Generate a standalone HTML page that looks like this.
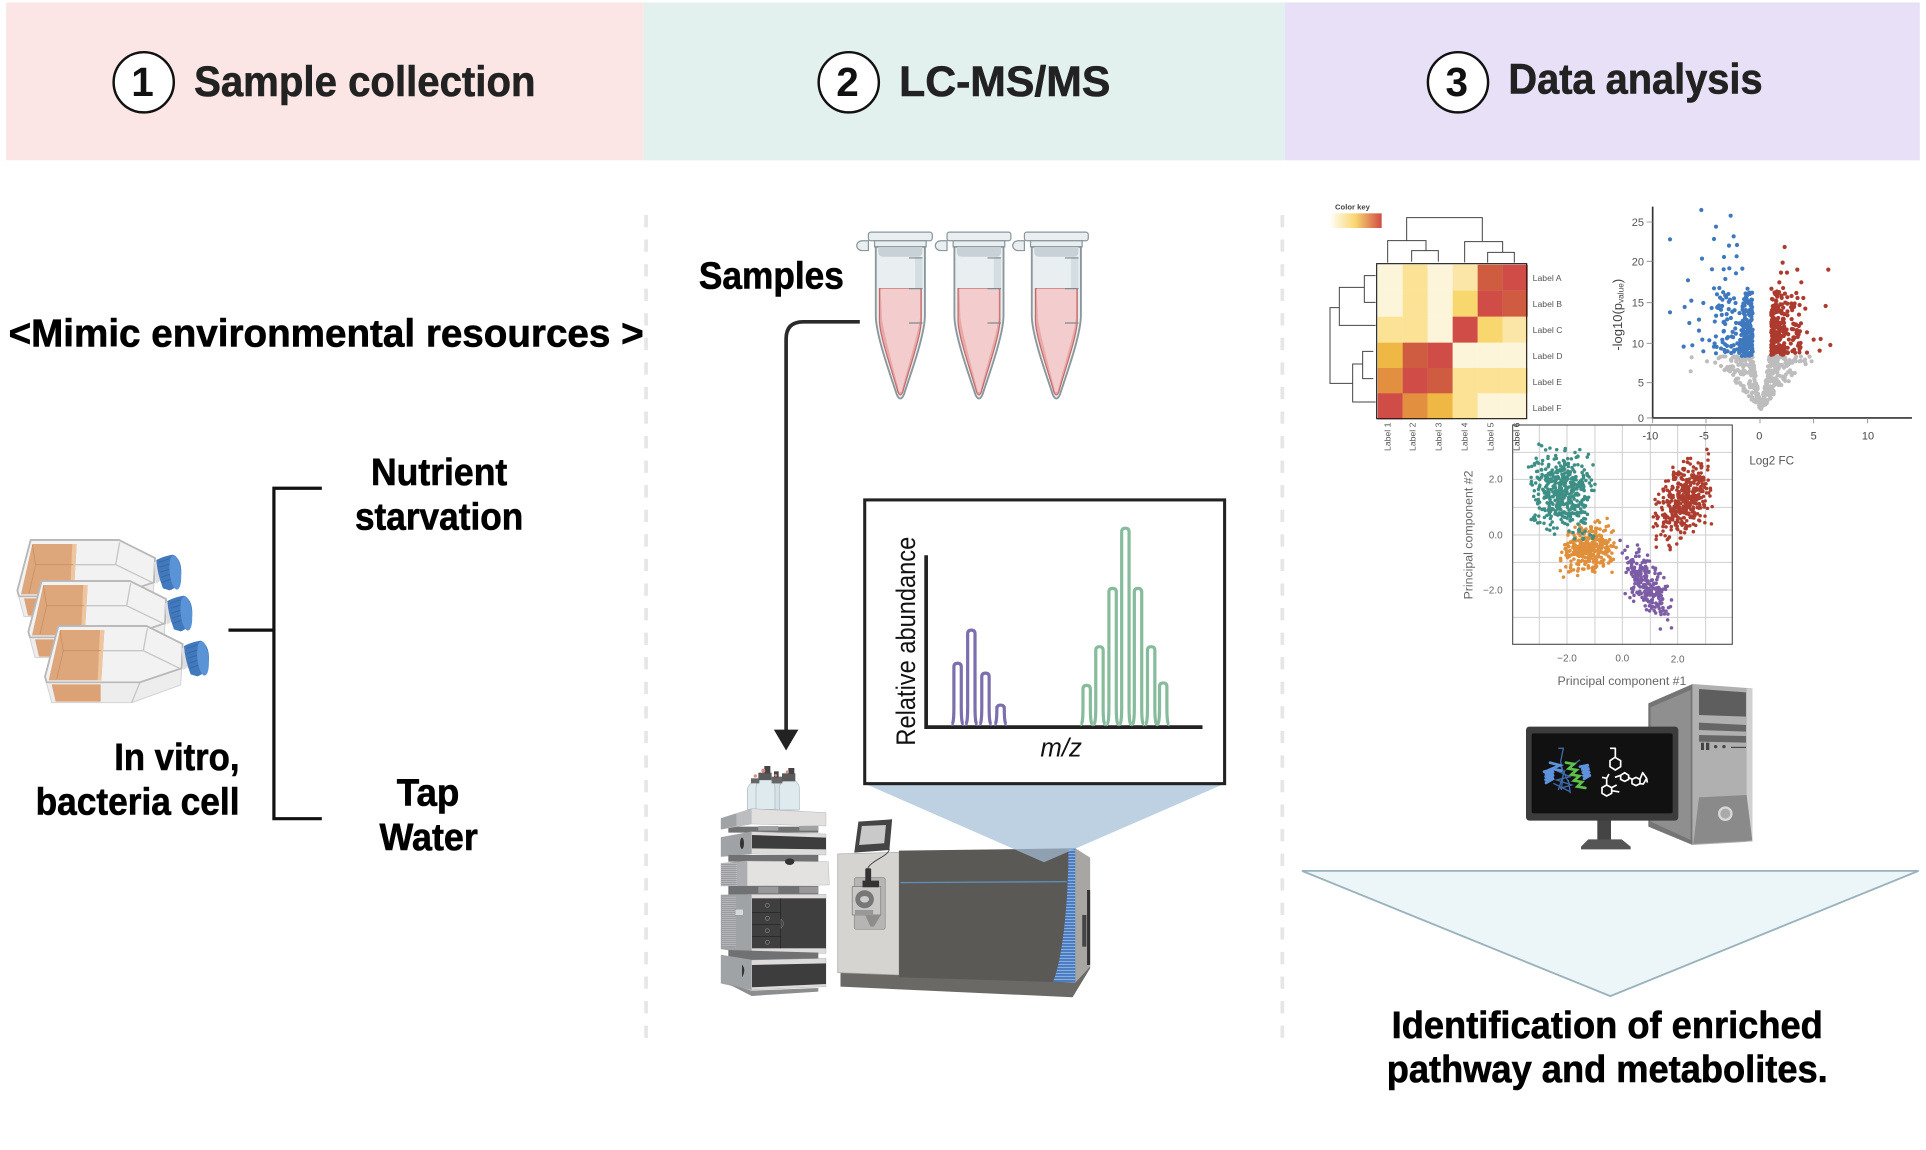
<!DOCTYPE html>
<html><head><meta charset="utf-8"><title>Workflow</title>
<style>
html,body{margin:0;padding:0;background:#fff;width:1926px;height:1150px;overflow:hidden}
svg{display:block}
text{font-family:"Liberation Sans",sans-serif}
.b{font-weight:700}
.h{font-weight:700;font-size:35px;fill:#222;stroke:#222;stroke-width:.5px}
.t{font-weight:700;font-size:31px;fill:#000;stroke:#000;stroke-width:.5px}
.g{fill:#666}
</style></head><body>
<svg xmlns="http://www.w3.org/2000/svg" width="1926" height="1150" viewBox="0 0 1926 1150">
<defs>
<linearGradient id="ck" x1="0" x2="1" y1="0" y2="0"><stop offset="0" stop-color="#fff"/><stop offset=".5" stop-color="#f9d76f"/><stop offset="1" stop-color="#d04c46"/></linearGradient>
<pattern id="stripes" width="9" height="9" patternUnits="userSpaceOnUse"><rect width="9" height="9" fill="#4a7cc2"/><rect width="9" height="3" fill="#8fb0dc"/></pattern>
<pattern id="vent" width="6" height="6" patternUnits="userSpaceOnUse"><rect width="6" height="6" fill="#b5b7ba"/><rect width="6" height="2" fill="#8a8c8f"/></pattern>
<g id="flask">
<path d="M175,318 L440,318 L548,372 L545,445 L420,487 L140,487 L135,470 Z" fill="#f2f2f2" stroke="#b8b8b8" stroke-width="5" stroke-linejoin="round"/>
<path d="M135,472 L155,548 L395,548 L542,495 L545,445 L420,487 L140,487 Z" fill="#ededed" stroke="#d4d4d4" stroke-width="3" stroke-linejoin="round"/>
<path d="M180,330 L313,330 L304,481 L146,481 Z" fill="#dea67b"/>
<path d="M300,330 L313,330 L304,481 L293,481 Z" fill="#edc59e"/>
<path d="M190,392 L303,392 M180,332 L190,392 L170,478" stroke="#c98f62" stroke-width="2.5" fill="none"/>
<path d="M155,493 L302,493 L302,545 L167,545 Z" fill="#dca275"/>
<path d="M308,392 L430,392 L545,448 M430,392 L442,325 M420,487 L395,548" stroke="#c6c6c6" stroke-width="4" fill="none"/>
<path d="M175,318 L440,318 L548,372 L545,445 L420,487 L140,487 L135,470 Z" fill="none" stroke="#b8b8b8" stroke-width="5" stroke-linejoin="round"/>
<path d="M545,385 L560,380 L565,440 L550,450 Z" fill="#dedede"/>
<path d="M552,378 Q575,366 602,362 Q628,375 627,418 Q625,458 592,469 L572,463 Q555,420 552,378 Z" fill="#4279bd"/>
<path d="M560,385 L590,375 M562,400 L592,390 M564,415 L594,405 M566,430 L595,420 M569,445 L597,435" stroke="#356aa8" stroke-width="3" fill="none"/>
<ellipse cx="609" cy="415" rx="17" ry="52" transform="rotate(-6 609 415)" fill="#5a93d6"/>
</g>
<g id="tube">
<path d="M-26,7 a4.5,4 0 1 0 0,8 h5 v-8 z" fill="#e9eff0" stroke="#8a979c" stroke-width="1"/>
<rect x="-21" y="0" width="52" height="7" rx="2" fill="#e9eff0" stroke="#8a979c" stroke-width="1"/>
<rect x="-16" y="7" width="42" height="5" fill="#e9eff0" stroke="#8a979c" stroke-width="1"/>
<path d="M-15,12 H25 V68 C25,85 11,122 8,132 Q5,139 2,132 C-1,122 -15,85 -15,68 Z" fill="#e9eff0" stroke="#8a979c" stroke-width="1.5"/>
<path d="M-13,12 H23 V16 Q23,20 19,20 H-9 Q-13,20 -13,16 Z" fill="#c8d1d5"/>
<path d="M17,20 H23 V46 H17 Z" fill="#d4dde1"/>
<path d="M-12,46 H22 V72 C22,85 10,118 7,130 Q5,135 3,130 C0,118 -12,85 -12,72 Z" fill="#e8a9a9" stroke="#c46a6a" stroke-width="1"/>
<path d="M-11,46 H21 V70 C19,85 9,116 6,130 H4 C1,116 -8,85 -10,70 Z" fill="#f3cdcd"/>
<path d="M12,21 H23 M12,46 H23 M12,74 H23" stroke="#7d8a8f" stroke-width="1"/>
</g>
</defs>

<rect width="1926" height="1150" fill="#fff"/>
<g transform="scale(1.2283)">
<rect x="5" y="2" width="519" height="128.5" fill="#fbe6e5"/>
<rect x="524" y="2" width="522" height="128.5" fill="#e3f1ee"/>
<rect x="1046" y="2" width="517" height="128.5" fill="#e8e0f7"/>
<circle cx="117" cy="67" r="24.5" fill="#fff" stroke="#111" stroke-width="2"/>
<circle cx="691" cy="67" r="24.5" fill="#fff" stroke="#111" stroke-width="2"/>
<circle cx="1187" cy="67" r="24.5" fill="#fff" stroke="#111" stroke-width="2"/>
<text class="b" x="116" y="78" font-size="33" text-anchor="middle" fill="#111">1</text>
<text class="b" x="690" y="78" font-size="33" text-anchor="middle" fill="#111">2</text>
<text class="b" x="1186" y="78" font-size="33" text-anchor="middle" fill="#111">3</text>
<text class="h" x="158" y="78" textLength="278" lengthAdjust="spacingAndGlyphs">Sample collection</text>
<text class="h" x="732" y="78" textLength="172" lengthAdjust="spacingAndGlyphs">LC-MS/MS</text>
<text class="h" x="1228" y="76" textLength="207" lengthAdjust="spacingAndGlyphs">Data analysis</text>

<path d="M526,175 V845 M1044,175 V845" stroke="#e6e6e6" stroke-width="3" stroke-dasharray="10 10" fill="none"/>

<text class="t" x="7" y="282" textLength="517" lengthAdjust="spacingAndGlyphs" style="font-size:32px">&lt;Mimic environmental resources &gt;</text>
<text class="t" x="569" y="235" textLength="118" lengthAdjust="spacingAndGlyphs">Samples</text>
<text class="t" x="302" y="395" textLength="111" lengthAdjust="spacingAndGlyphs">Nutrient</text>
<text class="t" x="289" y="431" textLength="137" lengthAdjust="spacingAndGlyphs">starvation</text>
<text class="t" x="93" y="627" textLength="102" lengthAdjust="spacingAndGlyphs">In vitro,</text>
<text class="t" x="29" y="663" textLength="166" lengthAdjust="spacingAndGlyphs">bacteria cell</text>
<text class="t" x="323" y="656" textLength="51" lengthAdjust="spacingAndGlyphs">Tap</text>
<text class="t" x="309" y="692" textLength="80" lengthAdjust="spacingAndGlyphs">Water</text>
<text class="t" x="1133" y="845" textLength="351" lengthAdjust="spacingAndGlyphs">Identification of enriched</text>
<text class="t" x="1129" y="881" textLength="359" lengthAdjust="spacingAndGlyphs">pathway and metabolites.</text>

<path d="M262,397.5 H223 V666.5 H262 M186,513 H223" fill="none" stroke="#111" stroke-width="2.6"/>
<path d="M700,262 H654 Q640,262 640,276 V596" fill="none" stroke="#2a2a2a" stroke-width="3"/>
<polygon points="630,594 650,594 640,611" fill="#222"/>

<use href="#tube" x="728" y="189"/>
<use href="#tube" x="792" y="189"/>
<use href="#tube" x="855" y="189"/>

<polygon points="1060,709 1562,709 1311,811" fill="#ecf6f9" stroke="#9ab2bc" stroke-width="1.5"/>
</g>

<!-- flasks -->
<g transform="translate(0,520) scale(.3333)">
<use href="#flask" x="-83" y="-258"/>
<use href="#flask" x="-50" y="-135"/>
<use href="#flask"/>
</g>

<!-- LC stack -->
<g transform="translate(700,760) scale(.3333)">
<g>
<path d="M142,148 V92 Q142,78 155,68 H170 V148 Z" fill="#dfeaef" stroke="#a9b8bf" stroke-width="2"/>
<path d="M222,148 V70 H240 V148 Z" fill="#d5e2e8" stroke="#a9b8bf" stroke-width="2"/>
<path d="M168,148 V85 Q168,70 180,60 H212 Q225,70 225,85 V148 Z" fill="#dfeaef" stroke="#a9b8bf" stroke-width="2"/>
<path d="M238,150 V85 Q238,72 252,62 H285 Q298,72 298,85 V150 Z" fill="#dfeaef" stroke="#a9b8bf" stroke-width="2"/>
<rect x="153" y="55" width="25" height="15" fill="#666"/><rect x="175" y="38" width="40" height="22" fill="#5a5a5a"/>
<rect x="193" y="18" width="18" height="22" fill="#444"/><rect x="215" y="50" width="32" height="20" fill="#666"/>
<rect x="222" y="34" width="14" height="18" fill="#444"/><rect x="246" y="40" width="40" height="24" fill="#5a5a5a"/>
<rect x="265" y="24" width="18" height="18" fill="#444"/>
<circle cx="166" cy="48" r="5" fill="#d98a8a"/><circle cx="190" cy="32" r="6" fill="#d98a8a"/><circle cx="262" cy="36" r="5" fill="#d98a8a"/><circle cx="227" cy="46" r="4" fill="#d98a8a"/>
</g>
<path d="M85,200 H355 V218 H85 Z" fill="#6f7173"/>
<path d="M175,198 H235 V212 H175 Z M298,198 H355 V212 H298 Z" fill="#a0a2a4"/>
<polygon points="63,175 155,146 378,158 378,198 155,192 63,208" fill="#e2e0df" stroke="#999"/>
<polygon points="63,175 110,160 110,198 63,208" fill="#a0a3a6"/>
<polygon points="110,160 155,146 155,192 110,198" fill="#bcbdc0"/>
<polygon points="63,232 155,215 378,222 378,285 155,282 63,290" fill="#dedcdb" stroke="#999"/>
<polygon points="63,232 155,215 155,282 63,290" fill="#a0a3a6"/>
<polygon points="156,225 378,233 378,268 156,265" fill="#3d3d3d"/>
<ellipse cx="126" cy="250" rx="6" ry="17" fill="#333"/>
<rect x="85" y="285" width="270" height="20" fill="#6f7173"/>
<polygon points="63,310 140,303 385,305 388,375 140,378 63,378" fill="#e4e2e1" stroke="#999"/>
<polygon points="63,310 110,306 110,378 63,378" fill="url(#vent)"/>
<polygon points="110,306 142,304 142,378 110,378" fill="#abadb0"/>
<ellipse cx="269" cy="305" rx="14" ry="10" fill="#333"/>
<rect x="85" y="378" width="270" height="26" fill="#6f7173"/>
<rect x="175" y="380" width="60" height="20" fill="#999"/><rect x="298" y="380" width="57" height="20" fill="#999"/>
<polygon points="63,405 155,403 378,403 378,580 155,580 63,567" fill="#dedcdb" stroke="#999"/>
<polygon points="63,405 155,403 155,580 63,567" fill="#a0a3a6"/>
<polygon points="66,412 108,410 108,562 66,556" fill="url(#vent)"/>
<rect x="106" y="448" width="24" height="18" fill="#d9d9d9" stroke="#888"/>
<rect x="156" y="415" width="222" height="150" fill="#3f3f3f"/>
<path d="M156,457 H242 M156,494 H242 M156,530 H242 M242,415 V565" stroke="#222" stroke-width="2"/>
<g fill="none" stroke="#888" stroke-width="2"><circle cx="202" cy="436" r="6"/><circle cx="202" cy="475" r="6"/><circle cx="202" cy="512" r="6"/><circle cx="202" cy="547" r="6"/></g>
<path d="M243,477 Q258,490 243,505 Z" fill="#444" stroke="#aaa"/>
<polygon points="85,570 355,578 355,600 155,602 85,590" fill="#6f7173"/>
<polygon points="63,585 155,600 378,595 378,680 155,690 63,670" fill="#dedcdb" stroke="#999"/>
<polygon points="63,585 155,600 155,690 63,670" fill="#a0a3a6"/>
<polygon points="156,615 378,610 378,672 156,682" fill="#3d3d3d"/>
<path d="M126,614 Q140,630 126,652 Z" fill="#333"/>
<polygon points="85,672 155,692 355,684 355,695 155,708" fill="#8b8d8f"/>
</g>

<!-- MS instrument -->
<g transform="translate(700,490) scale(.34435,.3333)">
<polygon points="408,1448 578,1455 1133,1430 1133,1435 1082,1522 408,1490" fill="#6a6966"/>
<polygon points="400,1092 578,1087 578,1455 400,1448" fill="#d6d4d1" stroke="#a6a4a0" stroke-width="2"/>
<polygon points="578,1082 1090,1075 1090,1478 578,1462" fill="#5a5955"/>
<path d="M582,1178 L1065,1175" stroke="#5f8fba" stroke-width="4"/>
<path d="M1070,1075 H1090 V1478 L1025,1475 C1050,1420 1070,1250 1070,1075 Z" fill="url(#stripes)"/>
<polygon points="1090,1075 1133,1103 1133,1430 1090,1478" fill="#a8a6a2"/>
<rect x="1124" y="1200" width="9" height="225" fill="#333"/>
<rect x="1110" y="1275" width="12" height="95" fill="#444"/>
<polygon points="460,995 558,988 550,1080 448,1088" fill="#444"/>
<polygon points="470,1008 540,1005 535,1060 462,1065" fill="#c9c9c9"/>
<path d="M487,1135 C500,1110 545,1100 550,1078" fill="none" stroke="#333" stroke-width="2.5"/>
<rect x="448" y="1163" width="90" height="155" rx="6" fill="#b7b5b3" stroke="#8a8a8a" stroke-width="2"/>
<rect x="442" y="1190" width="83" height="85" fill="#c9c8c6" stroke="#777" stroke-width="2"/>
<rect x="480" y="1135" width="17" height="40" rx="4" fill="#333"/>
<rect x="472" y="1172" width="48" height="20" fill="#333"/>
<circle cx="478" cy="1228" r="27" fill="#777"/>
<ellipse cx="478" cy="1228" rx="13" ry="10" fill="#ccc"/>
<rect x="450" y="1260" width="53" height="16" fill="#999"/>
<polygon points="480,1276 525,1276 505,1310 495,1310" fill="#8d8d8d"/>
</g>

<!-- PCA -->
<g transform="translate(1440,420) scale(.3333)" font-size="30" class="pca">
<path d="M298,15 V673 M381,15 V673 M465,15 V673 M547,15 V673 M631,15 V673 M713,15 V673 M797,15 V673 M218,97 H877 M218,178 H877 M218,262 H877 M218,345 H877 M218,427 H877 M218,510 H877 M218,592 H877" stroke="#cfcfcf" stroke-width="3" fill="none"/>
<rect x="218" y="15" width="659" height="658" fill="none" stroke="#555" stroke-width="3.5"/>
<g id="pcad"></g>
<g class="g" text-anchor="end"><text x="188" y="188">2.0</text><text x="188" y="355">0.0</text><text x="188" y="520">−2.0</text></g>
<g class="g" text-anchor="middle"><text x="381" y="725">−2.0</text><text x="547" y="725">0.0</text><text x="713" y="728">2.0</text></g>
<text class="g" x="546" y="795" font-size="37" text-anchor="middle">Principal component #1</text>
<text class="g" x="0" y="0" font-size="37" text-anchor="middle" transform="translate(98,345) rotate(-90)">Principal component #2</text>
</g>

<!-- Heatmap -->
<g transform="translate(1310,190) scale(.3333)">
<rect x="57" y="70" width="158" height="44" fill="url(#ck)"/>
<text class="b" x="75" y="58" font-size="23" fill="#444">Color key</text>
<g id="heat"></g>
<rect x="200" y="221" width="450" height="465" fill="none" stroke="#222" stroke-width="3.5"/>
<path d="M233,218 V152 H348 V182 M305,215 V182 H385 V215 M290,152 V83 H517 V153 M464,217 V155 H578 V187 M533,218 V187 H613 V218 M197,257 H163 V337 H197 M163,292 H88 V406 H197 M88,353 H60 V580 H128 M190,484 H158 V566 H190 M158,522 H128 V636 H197" fill="none" stroke="#444" stroke-width="3"/>
<g font-size="26" fill="#555">
<text x="668" y="273">Label A</text><text x="668" y="351">Label B</text><text x="668" y="429">Label C</text><text x="668" y="507">Label D</text><text x="668" y="585">Label E</text><text x="668" y="663">Label F</text>
<text transform="translate(242,783) rotate(-90)">Label 1</text><text transform="translate(317,783) rotate(-90)">Label 2</text><text transform="translate(395,783) rotate(-90)">Label 3</text><text transform="translate(473,783) rotate(-90)">Label 4</text><text transform="translate(551,783) rotate(-90)">Label 5</text><text transform="translate(629,783) rotate(-90)" fill="#333">Label 6</text>
</g>
</g>

<!-- Volcano -->
<g transform="translate(1600,190) scale(.3333)">
<g id="vold"></g>
<path d="M158,50 V684 H936" fill="none" stroke="#333" stroke-width="5"/>
<path d="M140,96 H158 M140,214 H158 M140,338 H158 M140,460 H158 M140,578 H158 M140,684 H158 M158,684 V700 M318,684 V700 M480,684 V700 M641,684 V700 M803,684 V700" stroke="#888" stroke-width="2.5"/>
<g font-size="33" fill="#555" text-anchor="end"><text x="132" y="108">25</text><text x="132" y="226">20</text><text x="132" y="350">15</text><text x="132" y="472">10</text><text x="132" y="590">5</text><text x="132" y="696">0</text></g>
<g font-size="33" fill="#444" text-anchor="middle"><text x="151" y="749">-10</text><text x="312" y="749">-5</text><text x="478" y="749">0</text><text x="641" y="749">5</text><text x="804" y="749">10</text></g>
<text x="448" y="823" font-size="35" fill="#555">Log2 FC</text>
<text transform="translate(66,482) rotate(-90)" font-size="39" fill="#444">-log10(p<tspan font-size="25" dy="4">value</tspan><tspan dy="-4">)</tspan></text>
</g>

<!-- Computer -->
<g transform="translate(1500,670) scale(.3333)">
<polygon points="445,100 578,42 578,525 445,470" fill="#757575"/>
<polygon points="452,112 572,60 572,510 452,455" fill="#8f8f8f"/>
<polygon points="578,42 757,55 757,515 578,525" fill="#b0b0b0"/>
<polygon points="597,57 738,67 738,140 597,135" fill="#5e5e5e"/>
<polygon points="597,158 738,165 738,185 597,180" fill="#666"/>
<polygon points="597,195 738,198 738,218 597,215" fill="#666"/>
<polygon points="740,55 757,55 757,515 740,515" fill="#d0d0d0"/>
<polygon points="597,382 740,375 757,512 580,522" fill="#8a8a8a"/>
<rect x="603" y="218" width="9" height="22" fill="#444"/><rect x="618" y="218" width="10" height="22" fill="#444"/>
<circle cx="647" cy="230" r="5" fill="#444"/><circle cx="672" cy="230" r="5" fill="#444"/>
<path d="M693,232 H738" stroke="#333" stroke-width="3"/>
<circle cx="676" cy="431" r="23" fill="#d8d8d8" stroke="#888" stroke-width="2"/><circle cx="676" cy="431" r="15" fill="#aaa"/>
<rect x="292" y="450" width="41" height="60" fill="#444"/>
<polygon points="243,530 265,508 365,508 392,530 392,538 243,538" fill="#555"/>
<rect x="78" y="170" width="457" height="282" rx="10" fill="#3c3c3c"/>
<rect x="95" y="190" width="423" height="240" rx="6" fill="#111"/>
<g fill="none" stroke="#3f6aa8" stroke-width="4">
<path d="M175,235 l15,0 -8,40 8,35 -6,50"/><path d="M205,330 l6,40 M225,280 l15,-10"/>
<path d="M165,300 l45,20 -40,10 45,15 -35,10 M180,285 l30,60 M195,300 l-20,60 M160,340 l50,25"/>
</g>
<g fill="none" stroke="#5f92dd" stroke-width="8" stroke-linecap="round">
<path d="M132,305 l28,-8 -26,14 28,-6 -28,16 28,-6 -28,16 28,-6 -24,14"/>
<path d="M150,278 l30,8 -24,10 28,6"/>
<path d="M240,290 l26,-5 -22,14 24,-4 -22,14 24,-4 -22,14 24,-4 -20,12"/>
</g>
<path d="M198,278 l24,4 -16,14 24,4 -16,14 24,4 -16,14 24,4 -14,14 24,4" fill="none" stroke="#5cc04b" stroke-width="8" stroke-linecap="round"/>
<g fill="none" stroke="#fff" stroke-width="5" stroke-linejoin="round">
<path d="M330,235 H346 L346,262 M345,262 L362,272 V290 L346,300 L330,290 V272 L345,262"/>
<path d="M345,322 L362,316 M362,316 L374,308 L386,316 V328 L374,334 L362,328 Z M386,322 L396,328 L408,322 L420,328 V341 L408,347 L396,341 V328 M420,328 L428,308 L440,325 L430,342 L420,341 M440,325 L442,338"/>
<path d="M320,345 L335,353 V370 L320,378 L306,370 V353 Z M320,345 L320,325 L306,322 M320,325 L327,312 M335,353 L350,345 M335,362 L358,366"/>
</g>
</g>

<!-- spectrum box -->
<g transform="scale(1.2283)">
<polygon points="704,638 997,638 850,702" fill="#a4bfd6" fill-opacity=".715"/>
<rect x="704" y="407" width="293" height="231" fill="#fff" stroke="#222" stroke-width="2.5"/>
<path d="M754,452 V592 H979" fill="none" stroke="#222" stroke-width="3"/>
<path id="pur" fill="none" stroke="#7d6fae" stroke-width="2.6"/>
<path id="grn" fill="none" stroke="#86bb9b" stroke-width="2.6"/>
<text transform="translate(745,607) rotate(-90)" font-size="21.5" fill="#111" textLength="170" lengthAdjust="spacingAndGlyphs">Relative abundance</text>
<text x="847" y="616" font-size="21" font-style="italic" fill="#111">m/z</text>
</g>
</svg>
<script>
(function(){
var s=12345;function r(){s=(s*1664525+1013904223)%4294967296;return s/4294967296;}
function n(){var v;do{v=Math.sqrt(-2*Math.log(r()+1e-9))*Math.cos(6.28318*r());}while(Math.abs(v)>2.3);return v;}
function c(x,y,rad,f){return '<circle cx="'+x.toFixed(1)+'" cy="'+y.toFixed(1)+'" r="'+rad+'" fill="'+f+'"/>';}
function peaks(a){var d='';a.forEach(function(p){var x=p[0],t=p[1];
d+='M'+(x-5)+',590 C'+(x-3.5)+',590 '+(x-3)+',585 '+(x-3)+',575 L'+(x-3)+','+(t+3)+' Q'+(x-3)+','+t+' '+x+','+t+' Q'+(x+3)+','+t+' '+(x+3)+','+(t+3)+' L'+(x+3)+',575 C'+(x+3)+',585 '+(x+3.5)+',590 '+(x+5)+',590 ';});return d;}
document.getElementById('pur').setAttribute('d',peaks([[779.6,540],[790.8,513],[802.3,548],[814.6,574]]));
document.getElementById('grn').setAttribute('d',peaks([[884.7,558],[895.1,526.5],[905.8,479],[916.2,430],[926.5,479],[937.2,526.5],[947,556]]));
var C='#fdf5d9',Y='#fbe294',L='#fbe6a8',M='#f9d76f',O='#efb844',E='#e28f3f',R='#cf5c40',D='#d04c46';
var H=[[C,Y,C,L,R,D],[C,Y,C,M,D,R],[Y,Y,C,D,M,L],[O,R,D,C,C,C],[E,D,R,Y,Y,Y],[D,E,O,Y,C,C]];
var xs=[203,278,353,428,503,578,653],ys=[224,302,380,458,534,610,688],h='';
for(var i=0;i<6;i++)for(var j=0;j<6;j++)h+='<rect x="'+xs[j]+'" y="'+ys[i]+'" width="'+(xs[j+1]-xs[j]+.5)+'" height="'+(ys[i+1]-ys[i]+.5)+'" fill="'+H[i][j]+'"/>';
document.getElementById('heat').innerHTML=h;
function cl(N,cx,cy,sx,sy,rho,f){var o='';for(var k=0;k<N;k++){var a=n(),b=n();var x=cx+sx*a,y=cy+sy*(rho*a+Math.sqrt(1-rho*rho)*b);o+=c(x,y,5.3,f);}return o;}
var P=cl(320,448,385,40,42,-.2,'#e08f3a')+cl(480,366,215,44,60,.12,'#3d8f85')+cl(240,620,495,36,55,.68,'#7b5ca5')+cl(420,735,240,42,60,-.45,'#ad3d2f');
document.getElementById('pcad').innerHTML=P;
var V='',k,y,d,inn;
for(k=0;k<340;k++){y=499+158*Math.pow(r(),1.25);inn=(657-y)*.16;d=inn+(657-y)*.85*Math.pow(r(),1.7);V+=c(483+(r()<.5?-1:1)*d,y,6.3,'#bdbdbd');}
[[275,502],[321,514],[272,544],[635,514]].forEach(function(p){V+=c(p[0],p[1],6.3,'#bdbdbd');});
for(k=0;k<190;k++)V+=c(416+42*Math.pow(r(),.6),295+203*Math.pow(r(),.55),6.3,'#3f78bd');
for(k=0;k<60;k++)V+=c(340+75*r(),280+215*Math.pow(r(),.7),6.3,'#3f78bd');
[[304,60],[392,77],[348,110],[210,148],[342,147],[401,139],[387,167],[411,165],[306,206],[372,201],[410,199],[336,238],[371,238],[388,235],[427,236],[408,250],[264,271],[376,267],[342,295],[274,332],[310,339],[254,351],[335,354],[210,367],[297,389],[268,399],[297,422],[307,449],[328,451],[251,470],[277,466],[310,484],[342,470],[348,490],[368,457]].forEach(function(p){V+=c(p[0],p[1],6.3,'#3f78bd');});
for(k=0;k<190;k++)V+=c(514+40*Math.pow(r(),1.4),270+225*Math.pow(r(),.55),6.3,'#ad3a2f');
for(k=0;k<55;k++)V+=c(552+50*r(),290+200*Math.pow(r(),.7),6.3,'#ad3a2f');
[[554,171],[548,218],[543,248],[561,248],[592,239],[685,239],[604,277],[589,309],[610,324],[616,356],[677,348],[597,374],[603,400],[621,427],[641,449],[662,447],[691,465],[659,482],[621,488],[582,349]].forEach(function(p){V+=c(p[0],p[1],6.3,'#ad3a2f');});
document.getElementById('vold').innerHTML=V;
})();
</script>
</body></html>
